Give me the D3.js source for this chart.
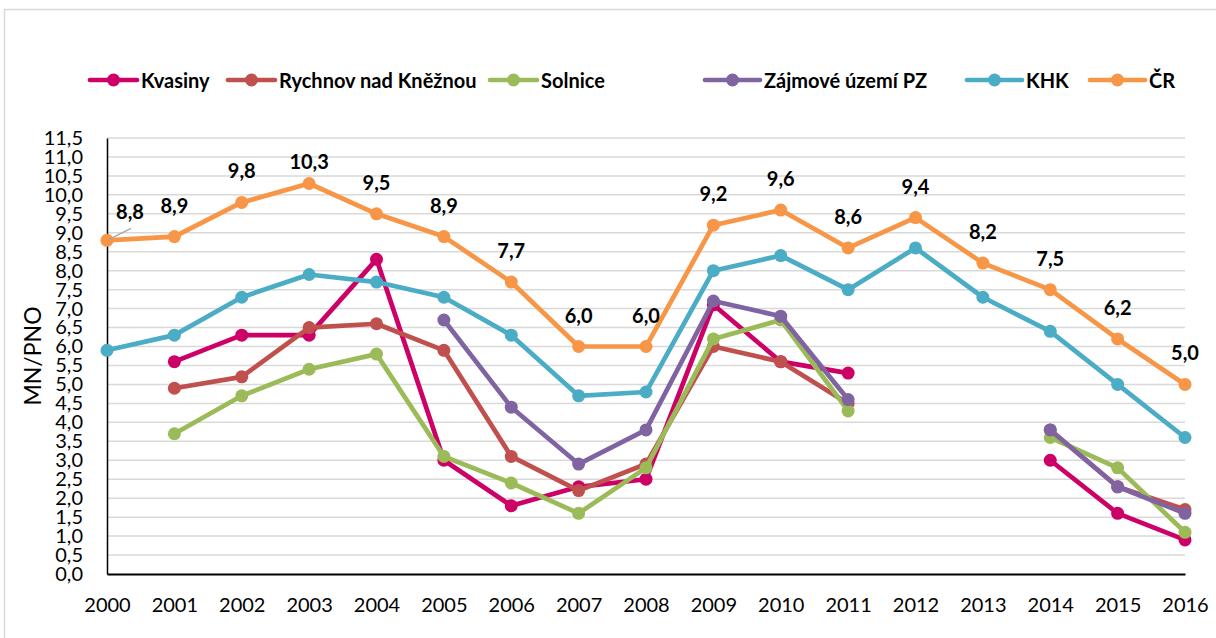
<!DOCTYPE html>
<html>
<head>
<meta charset="utf-8">
<script src="https://cdn.jsdelivr.net/npm/d3@7"></script>
<style>
  body { margin: 0; background: #fff; }
  svg { display: block; font-family: Lato, "Open Sans", sans-serif; }
</style>
</head>
<body>
<svg id="chart" width="1216" height="638"></svg>
<script>
const years = [2000, 2001, 2002, 2003, 2004, 2005, 2006, 2007, 2008, 2009, 2010, 2011, 2012, 2013, 2014, 2015, 2016];

const kvasiny  = [null, 5.6, 6.3, 6.3, 8.3, 3.0, 1.8, 2.3, 2.5, 7.1, 5.6, 5.3, null, null, 3.0, 1.6, 0.9];
const rychnov  = [null, 4.9, 5.2, 6.5, 6.6, 5.9, 3.1, 2.2, 2.9, 6.0, 5.6, 4.5, null, null, 3.8, 2.3, 1.7];
const solnice  = [null, 3.7, 4.7, 5.4, 5.8, 3.1, 2.4, 1.6, 2.8, 6.2, 6.7, 4.3, null, null, 3.6, 2.8, 1.1];
const zajmove  = [null, null, null, null, null, 6.7, 4.4, 2.9, 3.8, 7.2, 6.8, 4.6, null, null, 3.8, 2.3, 1.6];
const khk      = [5.9, 6.3, 7.3, 7.9, 7.7, 7.3, 6.3, 4.7, 4.8, 8.0, 8.4, 7.5, 8.6, 7.3, 6.4, 5.0, 3.6];
const cr       = [8.8, 8.9, 9.8, 10.3, 9.5, 8.9, 7.7, 6.0, 6.0, 9.2, 9.6, 8.6, 9.4, 8.2, 7.5, 6.2, 5.0];

const seriesNames = ["Kvasiny", "Rychnov nad Kněžnou", "Solnice", "Zájmové území PZ", "KHK", "ČR"];
const seriesValues = [kvasiny, rychnov, solnice, zajmove, khk, cr];
const seriesColors = ["#cc0066", "#c0504d", "#9bbb59", "#8064a2", "#4bacc6", "#f79646"];

const yTicks = d3.range(0, 11.51, 0.5);

const svg = d3.select("#chart");

// outer frame
svg.append("rect")
  .attr("x", 4.5).attr("y", 9.5)
  .attr("width", 1230).attr("height", 660)
  .attr("fill", "none")
  .attr("stroke", "#d9d9d9")
  .attr("stroke-width", 1.5);

const margin = { left: 107, right: 1185, top: 138, bottom: 574 };

const x = d3.scalePoint()
  .domain(years)
  .range([margin.left, margin.right]);

const y = d3.scaleLinear()
  .domain([0, 11.5])
  .range([margin.bottom, margin.top]);

// gridlines
svg.append("g")
  .selectAll("line")
  .data(yTicks.filter(d => d > 0))
  .join("line")
  .attr("x1", margin.left).attr("x2", margin.right)
  .attr("y1", d => y(d)).attr("y2", d => y(d))
  .attr("stroke", "#d9d9d9")
  .attr("stroke-width", 1.5);

const fmt = d => d.toFixed(1).replace(".", ",");

// y axis
const yAxis = svg.append("g")
  .attr("transform", `translate(${margin.left},0)`)
  .call(d3.axisLeft(y).tickValues(yTicks).tickSize(0).tickPadding(24).tickFormat(fmt));
yAxis.select(".domain").attr("stroke", "#000").attr("stroke-width", 1.5);
yAxis.selectAll("text")
  .attr("font-size", 20)
  .attr("fill", "#000")
  .attr("font-family", "Lato, sans-serif");

// x axis
const xAxis = svg.append("g")
  .attr("transform", `translate(0,${margin.bottom})`)
  .call(d3.axisBottom(x).tickSize(0).tickPadding(24).tickFormat(d => d));
xAxis.select(".domain").attr("stroke", "#000").attr("stroke-width", 2);
xAxis.selectAll("text")
  .attr("font-size", 20)
  .attr("fill", "#000")
  .attr("font-family", "Lato, sans-serif");

// y axis title
svg.append("text")
  .attr("transform", `translate(41,${(margin.top + margin.bottom) / 2}) rotate(-90)`)
  .attr("text-anchor", "middle")
  .attr("font-size", 23)
  .attr("fill", "#000")
  .text("MN/PNO");

// lines
const line = d3.line()
  .defined(d => d.v != null)
  .x(d => x(d.year))
  .y(d => y(d.v));

seriesValues.forEach((vals, i) => {
  const pts = years.map((year, j) => ({ year, v: vals[j] }));
  const g = svg.append("g");
  g.append("path")
    .datum(pts)
    .attr("d", line)
    .attr("fill", "none")
    .attr("stroke", seriesColors[i])
    .attr("stroke-width", 4.7)
    .attr("stroke-linejoin", "round");
  g.selectAll("circle")
    .data(pts.filter(d => d.v != null))
    .join("circle")
    .attr("cx", d => x(d.year))
    .attr("cy", d => y(d.v))
    .attr("r", 6.5)
    .attr("fill", seriesColors[i]);
});

// ČR data labels (first one is moved up-right with a leader line, 10,3 sits lower)
const crPts = years.map((year, j) => ({ year, v: cr[j] }));
svg.append("line")
  .attr("x1", x(2000) + 2).attr("y1", y(cr[0]) - 1)
  .attr("x2", x(2000) + 24).attr("y2", y(cr[0]) - 12)
  .attr("stroke", "#a6a6a6")
  .attr("stroke-width", 1.2);
svg.append("g")
  .selectAll("text")
  .data(crPts)
  .join("text")
  .attr("x", (d, i) => i === 0 ? x(d.year) + 23 : x(d.year))
  .attr("y", (d, i) => i === 0 ? y(d.v) - 21 : i === 3 ? y(d.v) - 14 : y(d.v) - 24)
  .attr("text-anchor", "middle")
  .attr("font-size", 20)
  .attr("font-weight", 700)
  .attr("fill", "#000")
  .text(d => fmt(d.v));

// legend
const legendX = [90, 228, 490, 705, 967, 1090];
const legendW = [47, 47, 47, 55, 55, 55];
const legend = svg.append("g");
seriesNames.forEach((name, i) => {
  const lg = legend.append("g").attr("transform", `translate(${legendX[i]},80)`);
  lg.append("line")
    .attr("x1", 0).attr("x2", legendW[i])
    .attr("stroke", seriesColors[i])
    .attr("stroke-width", 4.7)
    .attr("stroke-linecap", "round");
  lg.append("circle")
    .attr("cx", legendW[i] / 2)
    .attr("r", 6.5)
    .attr("fill", seriesColors[i]);
  lg.append("text")
    .attr("x", legendW[i] + 4)
    .attr("y", 8)
    .attr("font-size", 20)
    .attr("font-weight", 700)
    .attr("fill", "#000")
    .text(name);
});
</script>
</body>
</html>
